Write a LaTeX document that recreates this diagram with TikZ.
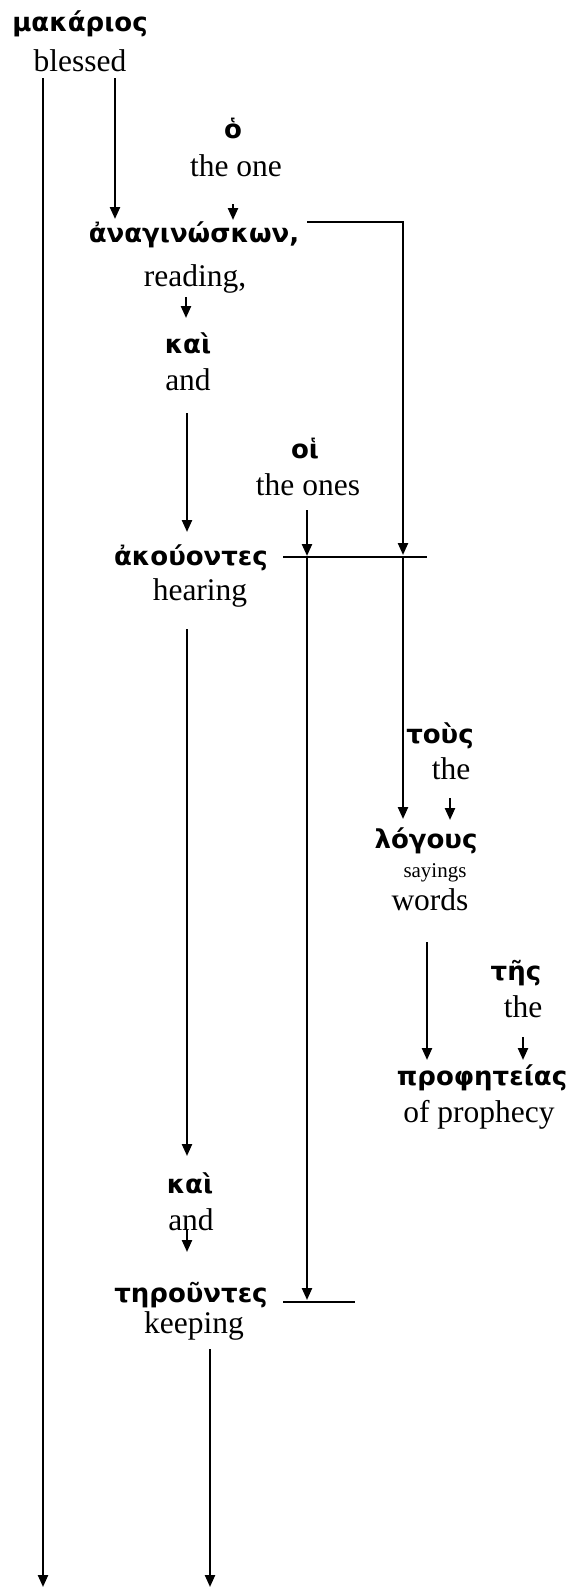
\documentclass[tikz,border=0pt]{standalone}
\usepackage{fontspec}
\setmainfont{Liberation Serif}
\newfontfamily\gkfont[BoldFont={DejaVu Sans Bold}]{DejaVu Sans}
\usetikzlibrary{arrows.meta}
\tikzset{
  gk/.style={font=\gkfont\bfseries\fontsize{26}{30}\selectfont, inner sep=0pt, anchor=base},
  en/.style={font=\fontsize{31.5}{36}\selectfont, inner sep=0pt, anchor=base},
  sm/.style={font=\fontsize{21}{24}\selectfont, inner sep=0pt, anchor=base},
  tip/.style={-{Triangle[length=12pt,width=10pt]}},
  ln/.style={line width=2.3pt},
  arr/.style={ln, tip},
  hl/.style={line width=1.7pt},
}
\begin{document}
\begin{tikzpicture}[x=1pt,y=-1pt]
\path[use as bounding box] (0,0) rectangle (574,1587);
% words
\node[gk] (makarios) at (80,32) {μακάριος};
\node[en] (blessed) at (80,71) {blessed};
\node[gk] (ho) at (233,138) {ὁ};
\node[en] (theone) at (236,176) {the one};
\node[gk] (anag) at (194,242) {ἀναγινώσκων,};
\node[en] (reading) at (195,286) {reading,};
\node[gk] (kai1) at (188,353) {καὶ};
\node[en] (and1) at (188,390) {and};
\node[gk] (hoi) at (305,458) {οἱ};
\node[en] (theones) at (308,495) {the ones};
\node[gk] (akou) at (191,565) {ἀκούοντες};
\node[en] (hearing) at (200,600) {hearing};
\node[gk] (tous) at (440,743) {τοὺς};
\node[en] (the1) at (451,779) {the};
\node[gk] (logous) at (426,848) {λόγους};
\node[sm] (sayings) at (435,877) {sayings};
\node[en] (words) at (430,910) {words};
\node[gk] (tes) at (516,980) {τῆς};
\node[en] (the2) at (523,1017) {the};
\node[gk] (proph) at (482,1085) {προφητείας};
\node[en] (ofproph) at (479,1122) {of prophecy};
\node[gk] (kai2) at (190,1193) {καὶ};
\node[en] (and2) at (191,1230) {and};
\node[gk] (terou) at (191,1302) {τηροῦντες};
\node[en] (keeping) at (194,1333) {keeping};
% connector ends
\coordinate (c1s) at (43,78);   \coordinate (c1e) at (43,1587);
\coordinate (c2s) at (115,78);  \coordinate (c2e) at (115,219);
\coordinate (c3s) at (233,204); \coordinate (c3e) at (233,220);
\coordinate (c4s) at (307,222); \coordinate (c4m) at (403,222); \coordinate (c4e) at (403,555);
\coordinate (c5s) at (186,297); \coordinate (c5e) at (186,318);
\coordinate (c6s) at (187,413); \coordinate (c6e) at (187,532);
\coordinate (c7s) at (307,510); \coordinate (c7e) at (307,556);
\coordinate (h1s) at (283,557); \coordinate (h1e) at (427,557);
\coordinate (c8s) at (307,557); \coordinate (c8e) at (307,1300);
\coordinate (c9s) at (403,557); \coordinate (c9e) at (403,819);
\coordinate (c10s) at (187,629); \coordinate (c10e) at (187,1156);
\coordinate (c11s) at (450,798); \coordinate (c11e) at (450,820);
\coordinate (c12s) at (427,942); \coordinate (c12e) at (427,1060);
\coordinate (c13s) at (523,1037); \coordinate (c13e) at (523,1060);
\coordinate (c14s) at (187,1230); \coordinate (c14e) at (187,1252);
\coordinate (h2s) at (283,1302); \coordinate (h2e) at (355,1302);
\coordinate (c15s) at (210,1349); \coordinate (c15e) at (210,1587);
% connectors
\draw[arr] (c1s) -- (c1e);
\draw[arr] (c2s) -- (c2e);
\draw[arr] (c3s) -- (c3e);
\draw[arr] (c4s) -- (c4m) -- (c4e);
\draw[arr] (c5s) -- (c5e);
\draw[arr] (c6s) -- (c6e);
\draw[arr] (c7s) -- (c7e);
\draw[hl] (h1s) -- (h1e);
\draw[arr] (c8s) -- (c8e);
\draw[arr] (c9s) -- (c9e);
\draw[arr] (c10s) -- (c10e);
\draw[arr] (c11s) -- (c11e);
\draw[arr] (c12s) -- (c12e);
\draw[arr] (c13s) -- (c13e);
\draw[arr] (c14s) -- (c14e);
\draw[hl] (h2s) -- (h2e);
\draw[arr] (c15s) -- (c15e);
\end{tikzpicture}
\end{document}
